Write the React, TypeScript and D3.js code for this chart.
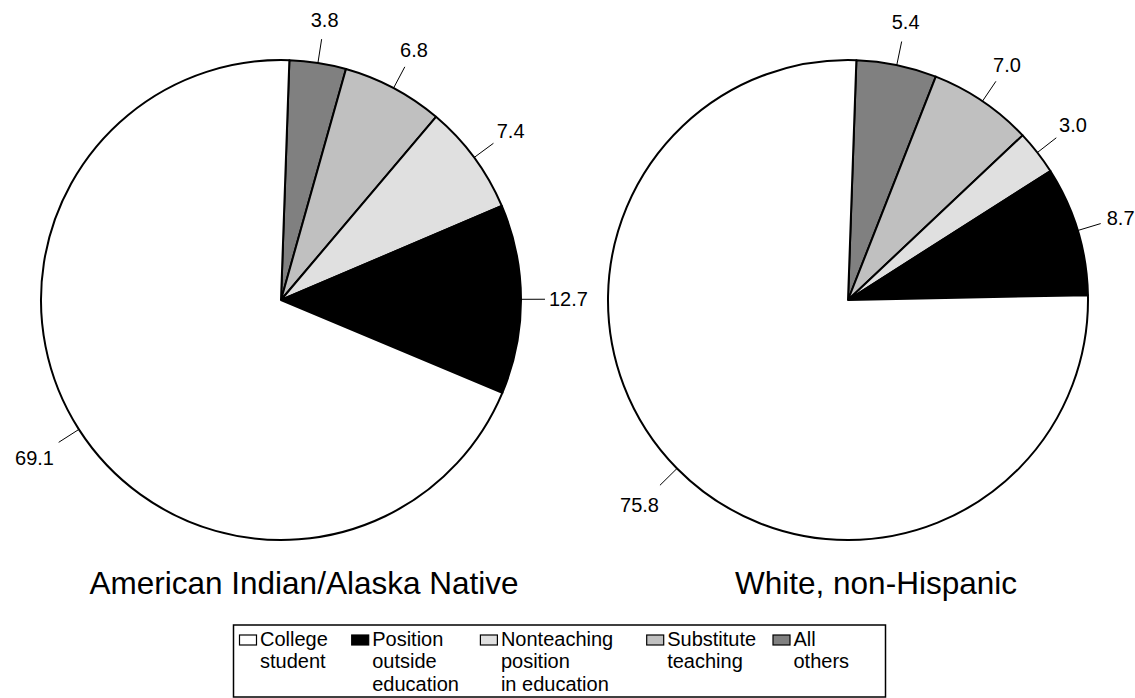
import React from "react";
import * as d3 from "d3";

// ---- data ----
const categories = [
  "College student",
  "Position outside education",
  "Nonteaching position in education",
  "Substitute teaching",
  "All others",
];
const legendLines = [
  ["College", "student"],
  ["Position", "outside", "education"],
  ["Nonteaching", "position", "in education"],
  ["Substitute", "teaching"],
  ["All", "others"],
];
const groups = ["American Indian/Alaska Native", "White, non-Hispanic"];
const aianValues = [69.1, 12.7, 7.4, 6.8, 3.8];
const whiteValues = [75.8, 8.7, 3.0, 7.0, 5.4];
const fills = ["#ffffff", "#000000", "#e0e0e0", "#c0c0c0", "#808080"];

// ---- layout ----
const W = 1135;
const H = 698;
const R = 240;
const pieCenters = [
  { x: 281, y: 300 },
  { x: 848, y: 300 },
];
const titleX = [304, 876];
const titleY = 594;
const startOffset = (2 * Math.PI) / 180; // slight rotation as in the source
const FONT = "'Liberation Sans', Arial, Helvetica, sans-serif";
const labelSize = 20;
const fmt = d3.format(".1f");

const legendBox = { x: 233.5, y: 625, w: 652, h: 72 };
const legendSwatchX = [239.5, 351.7, 480.4, 646.7, 773];

function textWidth(s: string, size: number) {
  let w = 0;
  for (const c of s) w += c === "." ? 0.278 : 0.556;
  return w * size;
}

function Pie({ values, cx, cy }: { values: number[]; cx: number; cy: number }) {
  // draw clockwise from top, last category first
  const order = values.map((_, i) => i).reverse();
  const pie = d3
    .pie<number>()
    .sort(null)
    .value((i) => values[i])
    .startAngle(startOffset)
    .endAngle(startOffset + 2 * Math.PI);
  const arcs = pie(order);
  const arc = d3.arc<d3.PieArcDatum<number>>().innerRadius(0).outerRadius(R);
  const lead = 24;
  return (
    <g transform={`translate(${cx},${cy})`}>
      {arcs.map((a) => (
        <path
          key={a.data}
          d={arc(a) || ""}
          fill={fills[a.data]}
          stroke="#000"
          strokeWidth={2}
          strokeLinejoin="round"
        />
      ))}
      {arcs.map((a) => {
        const m = (a.startAngle + a.endAngle) / 2;
        const ux = Math.sin(m);
        const uy = -Math.cos(m);
        const label = fmt(values[a.data]);
        const w = textWidth(label, labelSize);
        const hh = 7.5;
        const bound = Math.min(
          Math.abs(ux) > 1e-6 ? w / 2 / Math.abs(ux) : Infinity,
          Math.abs(uy) > 1e-6 ? hh / Math.abs(uy) : Infinity
        );
        const rEnd = R + lead;
        const rc = rEnd + bound + 4 + 8 * Math.abs(uy) + 12 * Math.max(0, uy);
        return (
          <g key={"l" + a.data}>
            <line
              x1={ux * R}
              y1={uy * R}
              x2={ux * rEnd}
              y2={uy * rEnd}
              stroke="#000"
              strokeWidth={1}
            />
            <text
              x={ux * rc}
              y={uy * rc + 7}
              textAnchor="middle"
              fontSize={labelSize}
              fontFamily={FONT}
              fill="#000"
            >
              {label}
            </text>
          </g>
        );
      })}
    </g>
  );
}

export default function App() {
  const series = [aianValues, whiteValues];
  return (
    <svg
      width={W}
      height={H}
      viewBox={`0 0 ${W} ${H}`}
      style={{ position: "absolute", left: 0, top: 0, background: "#fff" }}
    >
      <rect x={0} y={0} width={W} height={H} fill="#fff" />
      {series.map((vals, gi) => (
        <g key={groups[gi]}>
          <Pie values={vals} cx={pieCenters[gi].x} cy={pieCenters[gi].y} />
          <text
            x={titleX[gi]}
            y={titleY}
            textAnchor="middle"
            fontSize={31.5}
            fontFamily={FONT}
            fill="#000"
          >
            {groups[gi]}
          </text>
        </g>
      ))}
      <g>
        <rect
          x={legendBox.x}
          y={legendBox.y}
          width={legendBox.w}
          height={legendBox.h}
          fill="#fff"
          stroke="#000"
          strokeWidth={1.5}
        />
        {categories.map((c, i) => (
          <g key={c}>
            <rect
              x={legendSwatchX[i]}
              y={635}
              width={17}
              height={10}
              fill={fills[i]}
              stroke="#000"
              strokeWidth={1.2}
            />
            <text fontSize={20} fontFamily={FONT} fill="#000">
              {legendLines[i].map((ln, li) => (
                <tspan key={li} x={legendSwatchX[i] + 20.5} y={645.7 + li * 22.5}>
                  {ln}
                </tspan>
              ))}
            </text>
          </g>
        ))}
      </g>
    </svg>
  );
}
